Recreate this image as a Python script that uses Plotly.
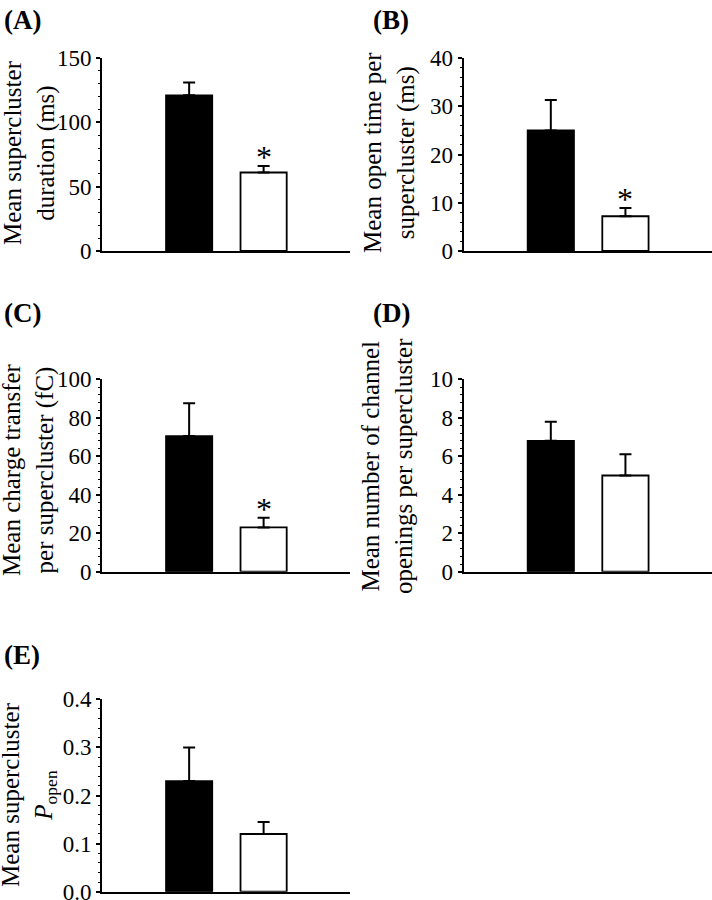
import plotly.graph_objects as go

# ---------------- data ----------------
groups = ["Control", "Treated"]

dur_mean = [121, 61]
dur_err = [10, 5]

open_mean = [25.0, 7.2]
open_err = [6.3, 1.7]

charge_mean = [70.5, 23.0]
charge_err = [17.0, 5.0]

nopen_mean = [6.8, 5.0]
nopen_err = [1.0, 1.1]

popen_mean = [0.23, 0.12]
popen_err = [0.07, 0.025]

panel_letters = ["(A)", "(B)", "(C)", "(D)", "(E)"]
y_titles = [
    "Mean supercluster<br>duration (ms)",
    "Mean open time per<br>supercluster (ms)",
    "Mean charge transfer<br>per supercluster (fC)",
    "Mean number of channel<br>openings per supercluster",
    "Mean supercluster<br><i>P</i><sub>open</sub>",
]
y_ranges = [[0, 150], [0, 40], [0, 100], [0, 10], [0, 0.4]]
y_dticks = [50, 10, 20, 2, 0.1]
y_minor = [10, 2, 4, 0.4, 0.02]
y_formats = ["d", "d", "d", "d", ".1f"]
significant = [True, True, True, False, False]

# ---------------- layout geometry (pixels) ----------------
W, H = 712, 900
FONT = "Liberation Serif"
panels_px = [
    # x0, x1, ytop, ybottom
    (102, 350, 58, 251),
    (463.5, 712, 58, 251),
    (102, 350, 379.3, 571.7),
    (463.5, 712, 379.3, 571.7),
    (102, 350, 699.3, 891.7),
]
title_pos = [(29, 153), (389, 153), (28, 470), (387, 466), (29, 795)]
letter_pos = [(2, 3), (371, 3), (2, 296), (371, 296), (2, 638)]

means = [dur_mean, open_mean, charge_mean, nopen_mean, popen_mean]
errs = [dur_err, open_err, charge_err, nopen_err, popen_err]

fig = go.Figure()
annotations = []
for i in range(5):
    n = "" if i == 0 else str(i + 1)
    xa, ya = "x" + n, "y" + n
    x0, x1, yt, yb = panels_px[i]
    fig.add_trace(go.Bar(
        x=groups, y=means[i],
        xaxis=xa, yaxis=ya,
        marker=dict(color=["black", "white"], line=dict(color="black", width=1.8)),
        error_y=dict(type="data", array=errs[i], arrayminus=[0, 0], symmetric=False,
                     color="black", thickness=2, width=6),
        width=0.62,
        showlegend=False,
    ))
    fig.layout["xaxis" + n] = dict(
        domain=[x0 / W, x1 / W], anchor=ya, type="category",
        range=[-1.17, 2.16], showticklabels=False, ticks="",
        showline=True, linecolor="black", linewidth=2, showgrid=False, zeroline=False,
        fixedrange=True, automargin=False,
    )
    fig.layout["yaxis" + n] = dict(
        domain=[1 - yb / H, 1 - yt / H], anchor=xa,
        range=y_ranges[i], dtick=y_dticks[i], tick0=0, tickformat=y_formats[i],
        showline=True, linecolor="black", linewidth=2, showgrid=False, zeroline=False,
        ticks="outside", ticklen=4, tickwidth=2, tickcolor="black",
        minor=dict(dtick=y_minor[i], ticks="outside", ticklen=2, tickwidth=1,
                   tickcolor="black", showgrid=False),
        tickfont=dict(family=FONT, size=23, color="black"),
        ticklabeloverflow="allow",
        fixedrange=True, automargin=False,
    )
    tx, ty = title_pos[i]
    annotations.append(dict(
        x=tx / W, y=1 - ty / H, xref="paper", yref="paper",
        text=y_titles[i], textangle=-90, showarrow=False,
        xanchor="center", yanchor="middle", align="center",
        font=dict(family=FONT, size=25, color="black"),
    ))
    lx, ly = letter_pos[i]
    annotations.append(dict(
        x=lx / W, y=1 - ly / H, xref="paper", yref="paper",
        text="<b>" + panel_letters[i] + "</b>", showarrow=False,
        xanchor="left", yanchor="top",
        font=dict(family=FONT, size=27, color="black"),
    ))
    if significant[i]:
        annotations.append(dict(
            x=groups[1], y=means[i][1] + errs[i][1], xref=xa, yref=ya,
            text="*", showarrow=False, xanchor="center", yanchor="bottom",
            yshift=-11,
            font=dict(family=FONT, size=32, color="black"),
        ))

fig.update_layout(
    template="none",
    width=W, height=H,
    margin=dict(l=0, r=0, t=0, b=0, autoexpand=False),
    paper_bgcolor="white", plot_bgcolor="white",
    bargap=0.38,
    annotations=annotations,
    font=dict(family=FONT, color="black"),
    showlegend=False,
)

fig.write_html(
    "out.html",
    config={"displayModeBar": False, "staticPlot": True},
    post_script="document.body.style.margin='0';document.body.style.overflow='hidden';",
)
